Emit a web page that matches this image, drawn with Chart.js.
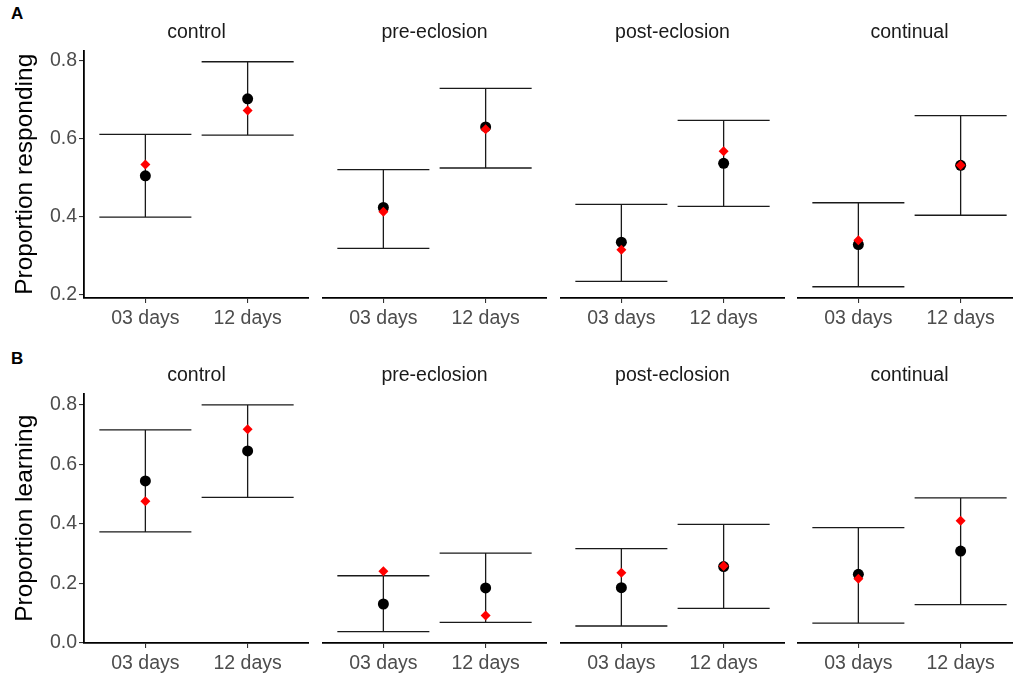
<!DOCTYPE html>
<html>
<head>
<script src="https://cdn.jsdelivr.net/npm/chart.js@4.4.1/dist/chart.umd.min.js"></script>
<style>
  html, body { margin: 0; padding: 0; background: #fff; overflow: hidden; }
  body { width: 1013px; height: 676px; position: relative; }
  canvas { position: absolute; }
  .tag { position: absolute; left: 11px; font: bold 17px "Liberation Sans", Arial, sans-serif; color: #000; }
</style>
</head>
<body>
<div class="tag" style="top:4px">A</div>
<div class="tag" style="top:349px">B</div>
<script>
// DATA
const groups = ["control", "pre-eclosion", "post-eclosion", "continual"];
const days = ["03 days", "12 days"];

// proportion responding: model estimate (black), observed (red), interval
const respMean = [[0.505, 0.702], [0.424, 0.630], [0.335, 0.537], [0.329, 0.532]];
const respObs  = [[0.534, 0.672], [0.413, 0.624], [0.316, 0.568], [0.340, 0.532]];
const respLo   = [[0.399, 0.609], [0.319, 0.525], [0.235, 0.427], [0.221, 0.404]];
const respHi   = [[0.611, 0.797], [0.521, 0.729], [0.432, 0.647], [0.436, 0.659]];

// proportion learning
const learnMean = [[0.544, 0.645], [0.130, 0.184], [0.185, 0.256], [0.230, 0.308]];
const learnObs  = [[0.476, 0.718], [0.240, 0.091], [0.235, 0.258], [0.215, 0.410]];
const learnLo   = [[0.373, 0.489], [0.037, 0.068], [0.056, 0.115], [0.066, 0.128]];
const learnHi   = [[0.716, 0.800], [0.225, 0.301], [0.316, 0.398], [0.387, 0.487]];

const respTicks = [0.2, 0.4, 0.6, 0.8];
const learnTicks = [0.0, 0.2, 0.4, 0.6, 0.8];

// LAYOUT
const FONT = '"Liberation Sans", Arial, sans-serif';
const panelW = 225, panelStep = 237.8, firstLeft = 84;
const rows = [
  { name: "Proportion responding", mean: respMean, obs: respObs, lo: respLo, hi: respHi,
    ticks: respTicks, top: 0, titleTop: 22.5, titleBottom: 8.5, xAxisH: 42 },
  { name: "Proportion learning", mean: learnMean, obs: learnObs, lo: learnLo, hi: learnHi,
    ticks: learnTicks, top: 340, titleTop: 25.5, titleBottom: 8.5, xAxisH: 37 }
];

// ggplot-like 5% expansion of the interval range
function yLimits(row) {
  const lo = Math.min(...row.lo.flat()), hi = Math.max(...row.hi.flat());
  const pad = (hi - lo) * 0.05;
  return [lo - pad, hi + pad];
}

const errorBars = {
  id: "errorBars",
  beforeDatasetsDraw(chart, args, opts) {
    const { ctx, scales: { x, y } } = chart;
    ctx.save();
    ctx.strokeStyle = "#1a1a1a";
    ctx.lineWidth = 1.3;
    opts.lo.forEach((lo, i) => {
      const hi = opts.hi[i];
      const px = x.getPixelForValue(i);
      const l = x.getPixelForValue(i - 0.45), r = x.getPixelForValue(i + 0.45);
      const yl = y.getPixelForValue(lo), yh = y.getPixelForValue(hi);
      ctx.beginPath();
      ctx.moveTo(l, yh); ctx.lineTo(r, yh);
      ctx.moveTo(l, yl); ctx.lineTo(r, yl);
      ctx.moveTo(px, yh); ctx.lineTo(px, yl);
      ctx.stroke();
    });
    ctx.restore();
  }
};

rows.forEach((row) => {
  const [ymin, ymax] = yLimits(row);
  groups.forEach((g, gi) => {
    const first = gi === 0;
    const left = firstLeft + gi * panelStep;
    const cv = document.createElement("canvas");
    const w = first ? left + panelW : panelW;
    cv.width = w; cv.height = 340;
    cv.style.left = (first ? 0 : left) + "px";
    cv.style.top = row.top + "px";
    cv.style.width = w + "px"; cv.style.height = "340px";
    document.body.appendChild(cv);

    new Chart(cv.getContext("2d"), {
      type: "scatter",
      data: {
        // first dataset is drawn on top: red observed points over the black estimates
        datasets: [
          {
            data: row.obs[gi].map((v, i) => ({ x: i, y: v })),
            pointStyle: "rectRot", pointRadius: 5,
            backgroundColor: "#ff0000", borderColor: "#ff0000", borderWidth: 0
          },
          {
            data: row.mean[gi].map((v, i) => ({ x: i, y: v })),
            pointStyle: "circle", pointRadius: 5.5,
            backgroundColor: "#000", borderColor: "#000", borderWidth: 0
          }
        ]
      },
      options: {
        responsive: false,
        animation: false,
        devicePixelRatio: 1,
        events: [],
        layout: { padding: 0, autoPadding: false },
        plugins: {
          legend: { display: false },
          tooltip: { enabled: false },
          title: {
            display: true, text: g, fullSize: false,
            color: "#1a1a1a",
            font: { family: FONT, size: 19.5, weight: "normal", lineHeight: 1 },
            padding: { top: row.titleTop, bottom: row.titleBottom }
          },
          errorBars: { lo: row.lo[gi], hi: row.hi[gi] }
        },
        scales: {
          x: {
            type: "linear", min: -0.6, max: 1.6,
            afterBuildTicks: (s) => { s.ticks = days.map((d, i) => ({ value: i })); },
            afterFit: (s) => { s.height = row.xAxisH; },
            ticks: {
              callback: (v) => days[v],
              color: "#4d4d4d", padding: 4,
              font: { family: FONT, size: 19.5 },
              maxRotation: 0
            },
            grid: { drawOnChartArea: false, drawTicks: true, tickLength: 5, color: "#333", lineWidth: 1.1 },
            border: { display: true, color: "#000", width: 1.8 }
          },
          y: {
            display: first,
            min: ymin, max: ymax,
            afterBuildTicks: (s) => { s.ticks = row.ticks.map((v) => ({ value: v })); },
            afterFit: (s) => { s.width = first ? firstLeft : 0; },
            ticks: {
              callback: (v) => v.toFixed(1),
              color: "#4d4d4d", padding: 2,
              font: { family: FONT, size: 19.5 }
            },
            grid: { drawOnChartArea: false, drawTicks: true, tickLength: 5, color: "#333", lineWidth: 1.1 },
            border: { display: true, color: "#000", width: 1.8 },
            title: {
              display: true, text: row.name, color: "#000",
              font: { family: FONT, size: 24.5, lineHeight: 1 },
              padding: { top: 13, bottom: 0 }
            }
          }
        }
      },
      plugins: [errorBars]
    });
  });
});
</script>
</body>
</html>
